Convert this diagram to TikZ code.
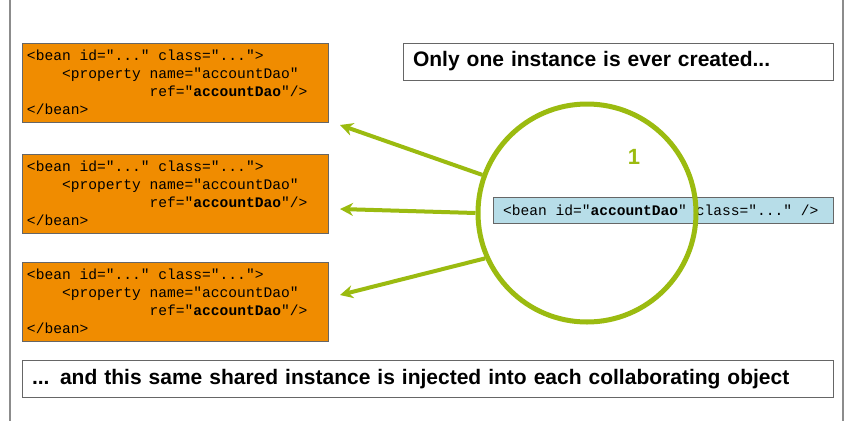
\documentclass[tikz,border=0pt]{standalone}
\usepackage{fontspec}
\setmainfont{Liberation Sans}
\setmonofont{Liberation Mono}
\usetikzlibrary{positioning,arrows.meta}
\definecolor{beanorange}{HTML}{F08C00}
\definecolor{beanblue}{HTML}{B7DDE8}
\definecolor{springgreen}{HTML}{9BBB10}
\tikzset{
  bean/.style={draw=black!60, fill=beanorange, minimum width=306pt, minimum height=79pt,
    inner sep=0pt, align=left, text width=296pt, font=\ttfamily\fontsize{14.6}{18}\selectfont},
  caption/.style={draw=black!60, fill=white, minimum height=37pt, inner sep=0pt,
    align=left, font=\bfseries\fontsize{21}{22}\selectfont},
  inject/.style={springgreen, line width=4pt, -{Stealth[length=13pt,width=13pt]}}
}
\newcommand{\msp}{\phantom{x}}
\newcommand{\beancode}{<bean\msp id="..."\msp class="...">\\
\phantom{xxxx}<property\msp name="accountDao"\\
\phantom{xxxxxxxxxxxxxx}ref="\textbf{accountDao}"/>\\
</bean>}
\begin{document}
\begin{tikzpicture}[x=1pt,y=-1pt]
  \useasboundingbox (0,0) rectangle (857,421);
  % Frame
  \draw[black!45, line width=1.2pt] (10,0) -- (10,421);
  \draw[black!45, line width=1.2pt] (843,0) -- (843,421);

  % Referencing beans
  \node[bean] (b1) at (175,82.5) {\beancode};
  \node[bean] (b2) at (175,193.5) {\beancode};
  \node[bean] (b3) at (175,301.5) {\beancode};

  % Captions
  \node[caption, minimum width=430pt, text width=410pt] (top) at (618,61.5)
    {Only one instance is ever created...};
  \node[caption, minimum width=811pt, text width=791pt] (bottom) at (427.5,379)
    {... and this same shared instance is injected into each collaborating object};

  % Shared bean
  \node[draw=black!60, fill=beanblue, minimum width=340pt, minimum height=26pt, inner sep=0pt,
    text width=320pt, align=left, font=\ttfamily\fontsize{14.6}{16}\selectfont]
    (dao) at (663,210) {<bean\msp id="\textbf{accountDao}"\msp class="..."\msp/>};

  % Singleton circle
  \node[draw=springgreen, line width=5pt, circle, minimum size=218pt] (ring) at (587,213) {};
  \node[text=springgreen, font=\bfseries\fontsize{22}{22}\selectfont] (one) at (634,157) {1};

  % Injection arrows
  \coordinate (t1) at (340,125);
  \coordinate (t2) at (340,209);
  \coordinate (t3) at (340,295);
  \draw[inject] (ring.160) -- (t1);
  \draw[inject] (ring.180) -- (t2);
  \draw[inject] (ring.204) -- (t3);
\end{tikzpicture}
\end{document}
